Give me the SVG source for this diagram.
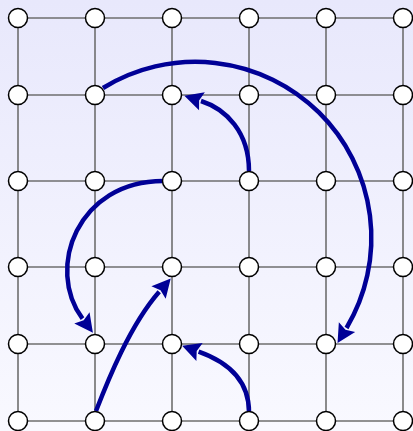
<svg xmlns="http://www.w3.org/2000/svg" width="413" height="431" viewBox="0 0 413 431">
<style>
.grid line{stroke:#6e6e6e;stroke-width:1.6}
.node circle{fill:#fff;stroke:#000;stroke-width:1.5}
.arrow{fill:none;stroke:#000096;stroke-width:4.5;marker-end:url(#ah)}
</style>
<defs>
<linearGradient id="bg" x1="0" y1="0" x2="0" y2="1">
<stop offset="0" stop-color="#e8e8fc"/>
<stop offset="1" stop-color="#f9f9ff"/>
</linearGradient>
<marker id="ah" markerUnits="userSpaceOnUse" viewBox="-2 -11 22 22" markerWidth="22" markerHeight="22" refX="0" refY="0" orient="auto">
<path d="M-1,-9.5 L17.5,0 L-1,9.5 L2,0 Z" fill="#000096"/>
</marker>
</defs>
<rect width="413" height="431" fill="url(#bg)"/>
<g class="grid" id="grid">
<line x1="18" y1="18" x2="403" y2="18"/>
<line x1="18" y1="95" x2="403" y2="95"/>
<line x1="18" y1="181" x2="403" y2="181"/>
<line x1="18" y1="267" x2="403" y2="267"/>
<line x1="18" y1="344" x2="403" y2="344"/>
<line x1="18" y1="421" x2="403" y2="421"/>
<line x1="18" y1="18" x2="18" y2="421"/>
<line x1="95" y1="18" x2="95" y2="421"/>
<line x1="172" y1="18" x2="172" y2="421"/>
<line x1="249" y1="18" x2="249" y2="421"/>
<line x1="326" y1="18" x2="326" y2="421"/>
<line x1="403" y1="18" x2="403" y2="421"/>
</g>
<g id="connectors">
<path class="arrow" d="M103,88 A176,176 0 0 1 346.5,328"/>
<path class="arrow" d="M249,171 C249,132 226,109 201,101"/>
<path class="arrow" d="M163,181 C78,181 45,268 82.5,318.7"/>
<path class="arrow" d="M96,411 C108,380 130,325 159.2,291.7"/>
<path class="arrow" d="M249,412 C249,381 228,362 198.6,351.6"/>
</g>
<g class="node" id="n-0-0"><circle cx="18" cy="18" r="9.5"/></g>
<g class="node" id="n-1-0"><circle cx="95" cy="18" r="9.5"/></g>
<g class="node" id="n-2-0"><circle cx="172" cy="18" r="9.5"/></g>
<g class="node" id="n-3-0"><circle cx="249" cy="18" r="9.5"/></g>
<g class="node" id="n-4-0"><circle cx="326" cy="18" r="9.5"/></g>
<g class="node" id="n-5-0"><circle cx="403" cy="18" r="9.5"/></g>
<g class="node" id="n-0-1"><circle cx="18" cy="95" r="9.5"/></g>
<g class="node" id="n-1-1"><circle cx="95" cy="95" r="9.5"/></g>
<g class="node" id="n-2-1"><circle cx="172" cy="95" r="9.5"/></g>
<g class="node" id="n-3-1"><circle cx="249" cy="95" r="9.5"/></g>
<g class="node" id="n-4-1"><circle cx="326" cy="95" r="9.5"/></g>
<g class="node" id="n-5-1"><circle cx="403" cy="95" r="9.5"/></g>
<g class="node" id="n-0-2"><circle cx="18" cy="181" r="9.5"/></g>
<g class="node" id="n-1-2"><circle cx="95" cy="181" r="9.5"/></g>
<g class="node" id="n-2-2"><circle cx="172" cy="181" r="9.5"/></g>
<g class="node" id="n-3-2"><circle cx="249" cy="181" r="9.5"/></g>
<g class="node" id="n-4-2"><circle cx="326" cy="181" r="9.5"/></g>
<g class="node" id="n-5-2"><circle cx="403" cy="181" r="9.5"/></g>
<g class="node" id="n-0-3"><circle cx="18" cy="267" r="9.5"/></g>
<g class="node" id="n-1-3"><circle cx="95" cy="267" r="9.5"/></g>
<g class="node" id="n-2-3"><circle cx="172" cy="267" r="9.5"/></g>
<g class="node" id="n-3-3"><circle cx="249" cy="267" r="9.5"/></g>
<g class="node" id="n-4-3"><circle cx="326" cy="267" r="9.5"/></g>
<g class="node" id="n-5-3"><circle cx="403" cy="267" r="9.5"/></g>
<g class="node" id="n-0-4"><circle cx="18" cy="344" r="9.5"/></g>
<g class="node" id="n-1-4"><circle cx="95" cy="344" r="9.5"/></g>
<g class="node" id="n-2-4"><circle cx="172" cy="344" r="9.5"/></g>
<g class="node" id="n-3-4"><circle cx="249" cy="344" r="9.5"/></g>
<g class="node" id="n-4-4"><circle cx="326" cy="344" r="9.5"/></g>
<g class="node" id="n-5-4"><circle cx="403" cy="344" r="9.5"/></g>
<g class="node" id="n-0-5"><circle cx="18" cy="421" r="9.5"/></g>
<g class="node" id="n-1-5"><circle cx="95" cy="421" r="9.5"/></g>
<g class="node" id="n-2-5"><circle cx="172" cy="421" r="9.5"/></g>
<g class="node" id="n-3-5"><circle cx="249" cy="421" r="9.5"/></g>
<g class="node" id="n-4-5"><circle cx="326" cy="421" r="9.5"/></g>
<g class="node" id="n-5-5"><circle cx="403" cy="421" r="9.5"/></g>
</svg>
